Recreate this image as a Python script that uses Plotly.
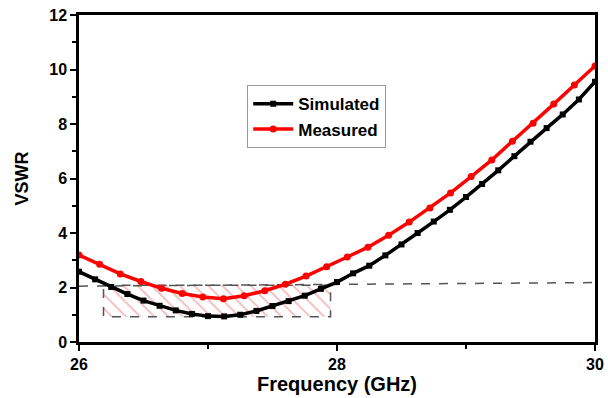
import plotly.graph_objects as go

# Simulated (black)
sim_freq = [26.000, 26.125, 26.250, 26.375, 26.500, 26.625, 26.750, 26.875, 27.000, 27.125,
            27.250, 27.375, 27.500, 27.625, 27.750, 27.875, 28.000, 28.125, 28.250, 28.375,
            28.500, 28.625, 28.750, 28.875, 29.000, 29.125, 29.250, 29.375, 29.500, 29.625,
            29.750, 29.875, 30.000]
sim_vswr = [2.58, 2.30, 2.02, 1.76, 1.52, 1.33, 1.16, 1.03, 0.95, 0.94,
            1.00, 1.14, 1.32, 1.50, 1.70, 1.95, 2.20, 2.52, 2.80, 3.18,
            3.58, 4.00, 4.42, 4.85, 5.32, 5.80, 6.30, 6.82, 7.35, 7.85,
            8.35, 8.90, 9.55]

# Measured (red)
meas_freq = [26.00, 26.16, 26.32, 26.48, 26.64, 26.80, 26.96, 27.12, 27.28, 27.44,
             27.60, 27.76, 27.92, 28.08, 28.24, 28.40, 28.56, 28.72, 28.88, 29.04,
             29.20, 29.36, 29.52, 29.68, 29.84, 30.00]
meas_vswr = [3.19, 2.85, 2.50, 2.22, 1.97, 1.78, 1.65, 1.59, 1.70, 1.88,
             2.12, 2.42, 2.76, 3.12, 3.48, 3.92, 4.40, 4.92, 5.47, 6.07,
             6.68, 7.37, 8.03, 8.73, 9.43, 10.13]

# Reference dashed line (VSWR = 2)
ref_freq = [26.0, 30.0]
ref_vswr = [2.05, 2.18]

# Hatched bandwidth box
box_freq = [26.19, 27.95, 27.95, 26.19, 26.19]
box_vswr = [2.08, 2.08, 0.93, 0.93, 2.08]

x_ticks = [26, 28, 30]
y_ticks = [0, 2, 4, 6, 8, 10, 12]

FONT = "Arial, Liberation Sans, sans-serif"

fig = go.Figure()

fig.add_trace(go.Scatter(
    x=box_freq, y=box_vswr, mode="lines", fill="toself",
    fillcolor="rgba(0,0,0,0)",
    fillpattern=dict(shape="\\", fgcolor="rgba(235,85,85,0.85)", bgcolor="rgba(0,0,0,0)",
                     size=10, solidity=0.18, fillmode="overlay"),
    line=dict(color="#555555", width=1.5, dash="dash"),
    showlegend=False, hoverinfo="skip"))

fig.add_trace(go.Scatter(
    x=ref_freq, y=ref_vswr, mode="lines",
    line=dict(color="#555555", width=1.5, dash="dash"),
    showlegend=False, hoverinfo="skip"))

fig.add_trace(go.Scatter(
    x=sim_freq, y=sim_vswr, mode="lines+markers", name="Simulated",
    line=dict(color="black", width=3.5),
    marker=dict(symbol="square", size=6, color="black")))

fig.add_trace(go.Scatter(
    x=meas_freq, y=meas_vswr, mode="lines+markers", name="Measured",
    line=dict(color="#ff0000", width=3.5),
    marker=dict(symbol="circle", size=7, color="#ff0000")))

fig.update_layout(
    width=608, height=398,
    margin=dict(l=79, r=13, t=15, b=56, autoexpand=False),
    paper_bgcolor="white", plot_bgcolor="white",
    font=dict(family=FONT, color="black", size=14),
    legend=dict(x=0.326, y=0.785, xanchor="left", yanchor="top",
                bgcolor="white", bordercolor="#999999", borderwidth=1,
                font=dict(family=FONT, size=17, color="black", weight="bold"),
                tracegroupgap=0, itemwidth=40),
)

fig.update_xaxes(
    range=[26, 30], tickvals=x_ticks, ticktext=[str(v) for v in x_ticks],
    ticks="outside", ticklen=6, tickwidth=2, tickcolor="black",
    minor=dict(dtick=1, ticks="outside", ticklen=4, tickwidth=2, tickcolor="black"),
    showline=True, linewidth=2.5, linecolor="black", mirror=True,
    showgrid=False, zeroline=False, automargin=False,
    tickfont=dict(family=FONT, size=16, weight="bold"),
    title=dict(text="Frequency (GHz)", font=dict(family=FONT, size=20, weight="bold"), standoff=6),
)
fig.update_yaxes(
    range=[0, 12], tickvals=y_ticks, ticktext=[str(v) for v in y_ticks],
    ticks="outside", ticklen=6, tickwidth=2, tickcolor="black",
    minor=dict(dtick=1, ticks="outside", ticklen=4, tickwidth=2, tickcolor="black"),
    showline=True, linewidth=2.5, linecolor="black", mirror=True,
    showgrid=False, zeroline=False, automargin=False,
    tickfont=dict(family=FONT, size=16, weight="bold"),
    title=dict(text="VSWR", font=dict(family=FONT, size=18, weight="bold"), standoff=16),
)

fig.write_html("out.html")
